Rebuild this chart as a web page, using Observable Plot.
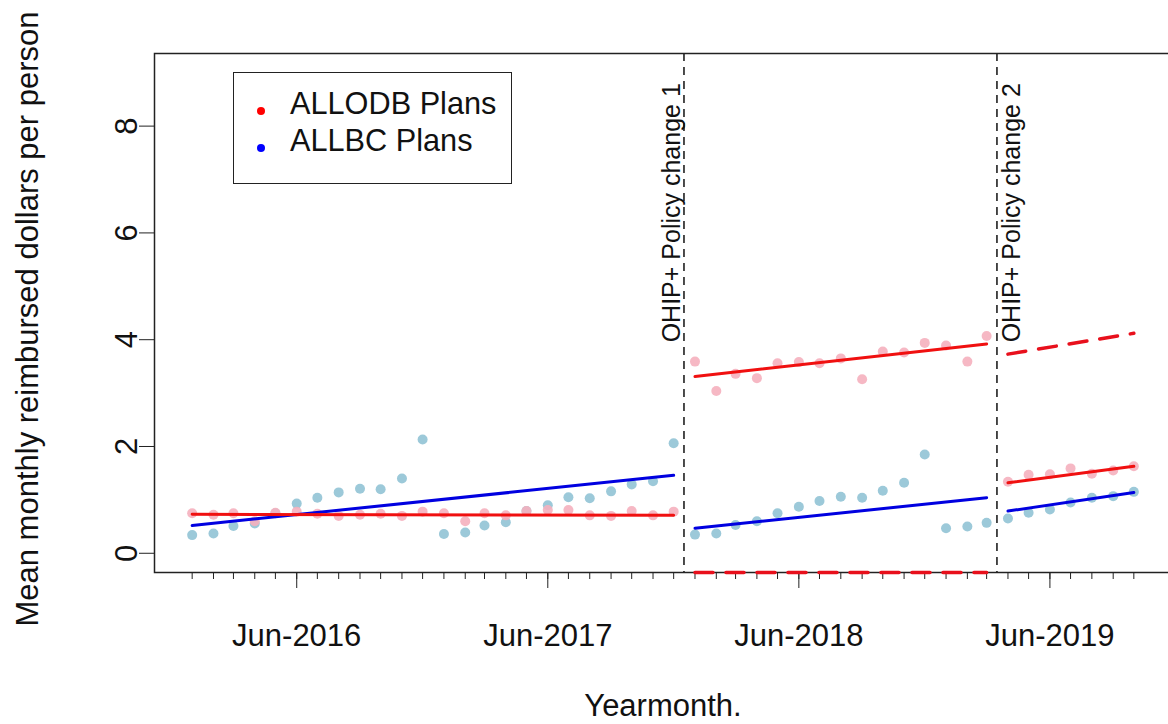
<!DOCTYPE html>
<html><head><meta charset="utf-8">
<script src="https://cdn.jsdelivr.net/npm/d3@7"></script>
<script src="https://cdn.jsdelivr.net/npm/@observablehq/plot@0.6"></script>
<style>
html,body{margin:0;padding:0;background:#fff;overflow:hidden;}
body{font-family:"Liberation Sans",Arial,Helvetica,sans-serif;}
#wrap{position:relative;width:1168px;height:724px;overflow:hidden;}
#wrap svg{max-width:none !important;display:block;}
#legend{position:absolute;left:233px;top:72px;width:279px;height:112px;box-sizing:border-box;border:1.5px solid #222;background:#fff;}
.li{position:absolute;left:0;font-size:30.7px;color:#111;white-space:nowrap;}
.dot{position:absolute;width:8px;height:8px;border-radius:50%;}
</style></head><body><div id="wrap"></div>
<script>
// ---- data ----
const months = d3.utcMonth.range(new Date(Date.UTC(2016,0,1)), new Date(Date.UTC(2019,10,1))); // Jan-2016 .. Oct-2019
const odbValues = [0.75,0.72,0.75,0.60,0.76,0.78,0.74,0.70,0.72,0.74,0.70,0.78,
                   0.75,0.60,0.75,0.71,0.79,0.81,0.81,0.71,0.70,0.79,0.71,0.78,
                   3.59,3.04,3.36,3.28,3.56,3.58,3.56,3.65,3.26,3.78,3.76,3.94,3.89,3.59,4.07,
                   1.34,1.47,1.48,1.59,1.49,1.55,1.63];
const lbcValues = [0.34,0.37,0.51,0.56,0.75,0.93,1.04,1.14,1.21,1.20,1.40,2.13,
                   0.36,0.39,0.52,0.58,0.79,0.90,1.05,1.03,1.16,1.29,1.35,2.06,
                   0.35,0.37,0.53,0.60,0.75,0.87,0.98,1.06,1.04,1.17,1.32,1.85,0.47,0.50,0.57,
                   0.65,0.76,0.82,0.95,1.04,1.07,1.15];
const periodStart = ["2016-01-01","2018-01-01","2019-04-01"];
const periodEnd   = ["2017-12-01","2019-03-01","2019-10-01"];
const odbFit = [[0.73,0.71],[3.31,3.92],[1.32,1.63]];
const lbcFit = [[0.52,1.46],[0.47,1.04],[0.79,1.14]];
const odbCounterfactual = [null,[-0.36,-0.36],[3.73,4.12]];
const policyDates = ["2017-12-16","2019-03-16"];
const policyLabels = ["OHIP+ Policy change 1","OHIP+ Policy change 2"];
const xTickDates = ["2016-06-01","2017-06-01","2018-06-01","2019-06-01"];
const xTickLabels = ["Jun-2016","Jun-2017","Jun-2018","Jun-2019"];
const yTicks = [0,2,4,6,8];
const legendLabels = ["ALLODB Plans","ALLBC Plans"];

// ---- build tables ----
const P = s => new Date(s + "T00:00:00Z");
const points = months.map((d,i) => ({date:d, odb:odbValues[i], lbc:lbcValues[i]}));
function segs(fit){
  const rows=[];
  fit.forEach((f,k)=>{ if(!f) return;
    rows.push({date:P(periodStart[k]), v:f[0], seg:k});
    rows.push({date:P(periodEnd[k]), v:f[1], seg:k});
  });
  return rows;
}
const odbLines = segs(odbFit), lbcLines = segs(lbcFit), cfLines = segs(odbCounterfactual);
const policy = policyDates.map((d,i)=>({date:P(d), label:policyLabels[i]}));
const xt = xTickDates.map((d,i)=>({date:P(d), label:xTickLabels[i]}));

const t0 = +months[0], t1 = +months[months.length-1], pad = 0.04*(t1-t0);
const yDom = [-0.36, 9.36];
const mTop = 53, mBottom = 152, H = 724;
const pxPerUnit = (H - mTop - mBottom) / (yDom[1]-yDom[0]);
const minorTickLen = 7;
const font = "Liberation Sans, Arial, sans-serif";
const FS = 31;

const chart = Plot.plot({
  width: 1175, height: H,
  marginLeft: 154, marginRight: 4, marginTop: mTop, marginBottom: mBottom,
  style: {fontFamily: font, background: "#fff", color: "#222", fontSize: "12px", maxWidth: "none"},
  x: {type: "utc", domain: [new Date(t0-pad), new Date(t1+pad)], ticks: xt.map(d=>d.date), tickSize: 16, tickFormat: () => "", label: null},
  y: {domain: yDom, ticks: yTicks, tickSize: 15, tickFormat: () => "", label: null},
  marks: [
    Plot.dot(points, {x:"date", y:"lbc", r:5, fill:"#9cc9d9", stroke:"none"}),
    Plot.dot(points, {x:"date", y:"odb", r:5, fill:"#f5b0be", stroke:"none", fillOpacity:0.9}),
    Plot.ruleX(policy, {x:"date", stroke:"#111", strokeWidth:1.5, strokeDasharray:"8,6"}),
    Plot.line(lbcLines, {x:"date", y:"v", z:"seg", stroke:"#0000e0", strokeWidth:3}),
    Plot.line(odbLines, {x:"date", y:"v", z:"seg", stroke:"#f01010", strokeWidth:3}),
    Plot.frame({stroke:"#222", strokeWidth:1.5}),
    Plot.ruleX(months, {x:d=>d, y1:yDom[0], y2:yDom[0] - minorTickLen/pxPerUnit, stroke:"#222"}),
    Plot.line(cfLines, {x:"date", y:"v", z:"seg", stroke:"#e8101c", strokeWidth:3.5, strokeDasharray:"18,13"}),
    Plot.text(policy.slice(0,1), {x:"date", y:()=>3.95, text:"label", rotate:-90, textAnchor:"start", dx:-12, fontSize:25, fill:"#111"}),
    Plot.text(policy.slice(1,2), {x:"date", y:()=>3.95, text:"label", rotate:-90, textAnchor:"start", dx:15, fontSize:25, fill:"#111"}),
    Plot.text(xt, {x:"date", text:"label", frameAnchor:"bottom", lineAnchor:"middle", dy:64, fontSize:FS, fill:"#111"}),
    Plot.text(yTicks, {y:d=>d, text:d=>String(d), frameAnchor:"left", textAnchor:"middle", lineAnchor:"middle", dx:-27, rotate:-90, fontSize:FS, fill:"#111"}),
    Plot.text(["Mean monthly reimbursed dollars per person"], {frameAnchor:"left", textAnchor:"middle", lineAnchor:"middle", dx:-126, dy:6, rotate:-90, fontSize:FS, fill:"#111"}),
    Plot.text(["Yearmonth."], {frameAnchor:"bottom", lineAnchor:"middle", dy:134, fontSize:FS, fill:"#111"})
  ]
});
document.getElementById("wrap").appendChild(chart);

// legend (HTML overlay)
const lg = document.createElement("div"); lg.id = "legend";
const colors = ["#ff0000","#0000ff"];
legendLabels.forEach((lab,i)=>{
  const dot = document.createElement("div"); dot.className="dot";
  dot.style.background = colors[i]; dot.style.left = "23px"; dot.style.top = (i===0 ? 34 : 71) + "px";
  lg.appendChild(dot);
  const t = document.createElement("div"); t.className="li"; t.textContent = lab;
  t.style.left = "56px"; t.style.top = (i===0 ? 13 : 50) + "px";
  lg.appendChild(t);
});
document.getElementById("wrap").appendChild(lg);
</script></body></html>
